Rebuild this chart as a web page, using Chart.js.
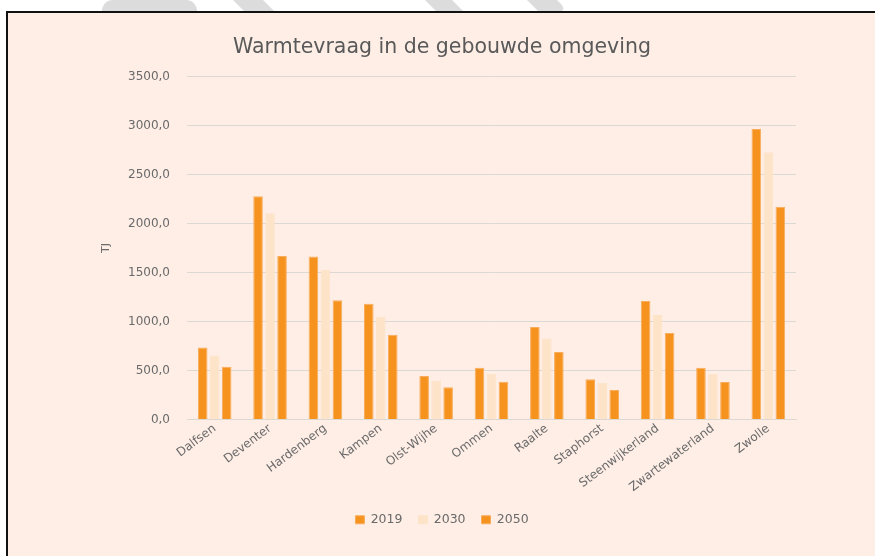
<!DOCTYPE html>
<html>
<head>
<meta charset="utf-8">
<script src="https://cdn.jsdelivr.net/npm/chart.js@4"></script>
<style>
  html, body { margin: 0; padding: 0; background: #fff; width: 875px; height: 556px; overflow: hidden; position: relative; }
  .deco { position: absolute; top: 0; height: 11px; background: #dcdcdc; transform-origin: 0 0; }
  #frame { position: absolute; left: 6px; top: 11px; width: 900px; height: 600px;
           border: 2px solid #111; background: #feeee6; box-sizing: border-box; }
  #chart { position: absolute; left: 8px; top: 13px; }
</style>
</head>
<body>
<!-- grey shapes peeking above the frame -->
<div class="deco" style="left:102px;width:95px;border-radius:40px 40px 0 0;"></div>
<div class="deco" style="left:233px;width:30px;transform:skewX(45deg);"></div>
<div class="deco" style="left:425px;width:27px;transform:skewX(45deg);"></div>
<div class="deco" style="left:527px;width:30px;transform:skewX(45deg);border-radius:0 0 8px 0;"></div>
<div id="frame"></div>
<canvas id="chart" width="867" height="543"></canvas>
<script>
/* ── Data (TJ) ── */
const gemeenten = ["Dalfsen", "Deventer", "Hardenberg", "Kampen", "Olst-Wijhe", "Ommen",
                   "Raalte", "Staphorst", "Steenwijkerland", "Zwartewaterland", "Zwolle"];
const jaren   = ["2019", "2030", "2050"];
const vr2019  = [735, 2280, 1663, 1182, 444, 528, 945, 410, 1209, 528, 2965];
const vr2030  = [653, 2104, 1528, 1050, 396, 467, 828, 376, 1067, 467, 2727];
const vr2050  = [538, 1670, 1216,  864, 328, 386, 688, 302,  884, 383, 2172];
const yMin = 0, yMax = 3500, yStep = 500;

/* ── Styling ── */
const FONT  = "DejaVu Sans";
const TXT   = "#6a6a6a";
const GRID  = "#dcd8d4";
const ORANJE = "#f6931f";
const PERZIK = "#fde3c8";

const ctx = document.getElementById("chart").getContext("2d");
new Chart(ctx, {
  type: "bar",
  data: {
    labels: gemeenten,
    datasets: [
      { label: jaren[0], data: vr2019, backgroundColor: ORANJE, borderColor: "#f8ad5c", borderWidth: 1 },
      { label: jaren[1], data: vr2030, backgroundColor: PERZIK, borderColor: PERZIK, borderWidth: 1 },
      { label: jaren[2], data: vr2050, backgroundColor: ORANJE, borderColor: "#f8ad5c", borderWidth: 1 },
    ],
  },
  options: {
    responsive: false,
    animation: false,
    categoryPercentage: 0.65,
    barPercentage: 0.8,
    layout: { padding: { left: 80, right: 79, top: 0, bottom: 20 } },
    plugins: {
      title: { display: true, text: "Warmtevraag in de gebouwde omgeving", color: "#595959",
               font: { family: FONT, size: 20.5, weight: "normal" }, padding: { top: 22, bottom: 17 } },
      legend: { position: "bottom",
                labels: { color: TXT, boxWidth: 9, boxHeight: 8, padding: 16,
                          font: { family: FONT, size: 12.5 } } },
      tooltip: { enabled: false },
    },
    scales: {
      x: {
        grid: { display: false, drawTicks: false },
        border: { display: true, color: GRID, width: 1 },
        ticks: { color: TXT, font: { family: FONT, size: 12 }, minRotation: 37, maxRotation: 37,
                 autoSkip: false, padding: 2 },
        afterFit: s => { s.height = 78; },
      },
      y: {
        min: yMin, max: yMax,
        grid: { color: GRID, lineWidth: 1, drawTicks: false },
        border: { display: false },
        ticks: { stepSize: yStep, color: TXT, padding: 17, font: { family: FONT, size: 12 },
                 callback: v => v.toFixed(1).replace(".", ",") },
        title: { display: true, text: "TJ", color: TXT, font: { family: FONT, size: 11 },
                 padding: { top: 12, bottom: 0 } },
        afterFit: s => { s.width = 99; },
      },
    },
  },
});
</script>
</body>
</html>
